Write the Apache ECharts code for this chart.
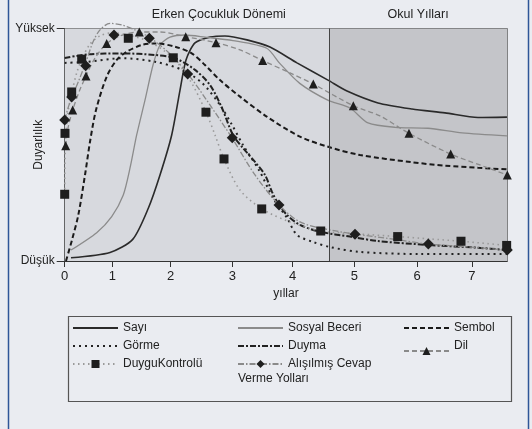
<!DOCTYPE html>
<html><head><meta charset="utf-8">
<script src="https://cdn.jsdelivr.net/npm/echarts@6/dist/echarts.min.js"></script>
<style>html,body{margin:0;padding:0;background:#eaecf1;} #c{width:532px;height:429px;}</style>
</head><body><div id="c"></div>
<script>
// Axis ticks (the reference axis has unevenly spaced year ticks)
const xTickValues = [0, 0.818, 1.822, 2.880, 3.918, 4.977, 6.055, 7.0];
const xTickLabels = ['0', '1', '2', '3', '4', '5', '6', '7'];
const yTickValues = [0, 100];
const yTickLabels = ['Düşük', 'Yüksek'];
const periodNames = ['Erken Çocukluk Dönemi', 'Okul Yılları'];
const periodBounds = [0, 4.542, 7.607];

// Series values (x = years on the drawn axis, y = relative sensitivity 0..100)
const sayiX = [0.108,0.779,1.169,1.437,1.638,1.839,1.982,2.085,2.239,2.497,2.755,3.133,3.528,3.992,4.525,4.852,5.385,5.969,6.536,7.103,7.601];
const sayiY = [1.4,3.7,9.3,22.7,37.0,54.2,73.5,86.5,93.8,96.3,96.8,95.1,92.0,85.2,77.8,73.1,68.0,65.4,63.7,61.7,61.9];
const sosyalX = [0.108,0.550,0.808,1.007,1.122,1.237,1.380,1.518,1.638,1.810,2.068,2.411,2.893,3.472,3.696,4.040,4.521,4.903,5.213,5.677,6.244,6.829,7.601];
const sosyalY = [4.7,12.2,19.1,28.4,39.9,54.2,69.2,84.3,92.9,96.3,97.2,96.3,94.8,91.5,85.0,76.4,69.2,65.8,59.4,57.5,57.1,55.1,53.8];
const sembolX = [0.022,0.125,0.234,0.349,0.435,0.538,0.722,0.894,1.066,1.323,1.552,1.896,2.183,2.411,2.669,3.013,3.472,4.044,4.542,5.075,5.964,6.536,7.103,7.601];
const sembolY = [0,9.0,19.8,37.0,51.3,64.9,79.3,86.5,90.0,92.9,93.6,92.2,89.3,84.3,77.8,70.7,62.1,53.5,49.0,45.6,42.5,41.0,40.1,39.4];
const gormeX = [0,0.400,0.985,1.552,2.016,2.360,2.669,2.876,3.065,3.357,3.580,3.821,3.993,4.268,4.560,5.075,6.106,7.601];
const gormeY = [85.2,85.7,87.2,85.7,82.2,76.6,67.1,58.5,49.9,38.3,27.1,18.5,11.2,8.2,6.0,3.9,3.0,3.0];
const duymaX = [0,0.400,0.985,1.552,1.896,2.239,2.497,2.703,2.892,3.064,3.271,3.443,3.563,3.666,3.821,4.044,4.388,4.903,5.385,6.244,7.103,7.601];
const duymaY = [87.3,88.9,89.3,88.6,87.2,82.2,75.7,65.8,54.2,48.6,42.6,37.0,29.7,24.9,19.8,15.5,12.6,10.5,8.6,6.9,5.7,4.7];
const dilX = [0.017,0.057,0.137,0.246,0.366,0.521,0.722,0.950,1.282,1.638,2.080,2.600,3.013,3.403,3.872,4.273,4.960,5.419,5.917,6.634,7.137,7.607];
const dilY = [49.6,57.2,64.9,72.7,79.6,87.3,93.5,96.8,98.5,98.5,96.5,93.9,90.8,86.2,80.9,76.1,66.8,62.4,54.9,46.0,41.3,37.0];
const dilMarkX = [0.017,0.137,0.366,0.722,1.282,2.080,2.600,3.403,4.273,4.960,5.917,6.634,7.607];
const dilMarkY = [49.6,64.9,79.6,93.5,98.5,96.5,93.9,86.2,76.1,66.8,54.9,46.0,37.0];
const duyguX = [0,0.005,0.022,0.057,0.125,0.211,0.297,0.435,0.607,0.813,1.088,1.466,1.862,2.153,2.428,2.583,2.738,3.013,3.391,3.872,4.405,5.075,5.728,6.278,6.811,7.601];
const duyguY = [28.8,43.4,55.1,64.1,72.7,81.3,86.9,93.3,96.8,98.1,97.2,94.2,87.3,77.8,64.1,54.2,43.9,30.5,22.4,16.8,12.9,11.6,10.5,9.5,8.5,6.7];
const duyguMarkX = [0,0.005,0.120,0.292,1.093,1.866,2.428,2.738,3.386,4.400,5.723,6.811,7.596];
const duyguMarkY = [28.7,54.9,72.7,86.8,95.8,87.4,64.0,43.9,22.4,12.9,10.5,8.5,6.7];
const alisX = [0,0.057,0.125,0.246,0.366,0.486,0.607,0.779,0.985,1.208,1.449,1.775,2.119,2.497,2.876,3.271,3.683,4.044,4.474,4.989,5.762,6.244,6.966,7.601];
const alisY = [60.6,65.8,70.5,77.8,85.6,94.2,99.4,102.2,101.5,99.4,96.3,89.9,80.4,67.1,52.9,37.0,24.1,16.8,13.8,11.6,9.0,7.3,6.0,4.7];
const alisMarkX = [0,0.120,0.361,0.847,1.454,2.114,2.880,3.683,4.989,6.249,7.607];
const alisMarkY = [60.6,70.5,84.0,97.2,95.8,80.4,53.0,24.1,11.5,7.3,4.7];

const zip = (xs, ys) => xs.map((x, i) => [x, ys[i]]);
const chart = echarts.init(document.getElementById('c'), null, {renderer: 'canvas'});
const FONT = 'Liberation Sans, Arial, sans-serif';
const TXT = '#222';
const MARK = '#1e1e1e';

function lineSeries(name, xs, ys, color, width, type, symbol, smooth) {
  return {
    name, type: 'line', data: zip(xs, ys), smooth: smooth, clip: false,
    showSymbol: false, symbol: symbol || 'circle', symbolSize: 8,
    itemStyle: {color: MARK, borderWidth: 0},
    lineStyle: {color, width, type},
    emphasis: {disabled: true}, z: 3
  };
}
function markerSeries(name, xs, ys, symbol, size) {
  return {
    name, type: 'scatter', data: zip(xs, ys), symbol, symbolSize: size, clip: false,
    itemStyle: {color: MARK, opacity: 1}, emphasis: {disabled: true}, z: 4
  };
}

const labelOf = (vals, labs) => v => {
  let best = 0;
  vals.forEach((t, i) => { if (Math.abs(t - v) < Math.abs(vals[best] - v)) best = i; });
  return labs[best];
};

const ALIS = 'Alışılmış Cevap Verme Yolları';
const series = [
  lineSeries('Sayı', sayiX, sayiY, '#2a2a2a', 1.6, 'solid', null, 0.25),
  lineSeries('Sosyal Beceri', sosyalX, sosyalY, '#8b8b8b', 1.3, 'solid', null, 0.25),
  lineSeries('Sembol', sembolX, sembolY, '#1a1a1a', 2, [5, 3], null, 0.3),
  lineSeries('Görme', gormeX, gormeY, '#222', 2, [2, 4], null, 0.3),
  lineSeries('Duyma', duymaX, duymaY, '#222', 2, [6, 2, 2, 2], null, 0.3),
  lineSeries('Dil', dilX, dilY, '#8a8a8a', 1.3, [5, 3], 'triangle', 0.3),
  lineSeries('DuyguKontrolü', duyguX, duyguY, '#9a9a9a', 1.6, [1.5, 3.5], 'rect', 0.3),
  lineSeries(ALIS, alisX, alisY, '#8a8a8a', 1.3, [6, 2, 1.5, 2], 'diamond', 0.3),
  markerSeries('Dil', dilMarkX, dilMarkY, 'triangle', 9),
  markerSeries('DuyguKontrolü', duyguMarkX, duyguMarkY, 'rect', 9),
  markerSeries(ALIS, alisMarkX, alisMarkY, 'diamond', 11)
];

series[0].markArea = {
  silent: true,
  label: {show: true, position: 'top', distance: 7, color: TXT, fontSize: 12.5, fontFamily: FONT},
  data: [
    [{name: periodNames[0], xAxis: periodBounds[0], itemStyle: {color: '#d7d9de'}, label: {offset: [22, 0]}}, {xAxis: periodBounds[1]}],
    [{name: periodNames[1], xAxis: periodBounds[1], itemStyle: {color: '#c4c5c9'}}, {xAxis: periodBounds[2]}]
  ]
};
series[0].markLine = {
  silent: true, symbol: 'none', label: {show: false},
  lineStyle: {color: '#444', width: 1, type: 'solid'},
  data: [{xAxis: periodBounds[1]}]
};

const legendRows = [330, 348, 366];
const legendCols = [72, 237, 403];
const legendPlace = [
  ['Sayı', 0, 0, false], ['Sosyal Beceri', 1, 0, false], ['Sembol', 2, 0, false],
  ['Görme', 0, 1, false], ['Duyma', 1, 1, false], ['Dil', 2, 1, true],
  ['DuyguKontrolü', 0, 2, true], [ALIS, 1, 2, true]
];
const legends = legendPlace.map(([name, c, r, hasMark]) => ({
  data: [name], left: legendCols[c], top: legendRows[r] - 8,
  itemWidth: 45, itemHeight: 10, itemGap: 6, padding: 0,
  selectedMode: false,
  itemStyle: hasMark ? {color: MARK} : {opacity: 0},
  formatter: n => n === ALIS ? 'Alışılmış Cevap' : (n === 'Dil' ? '{up|Dil}' : n),
  textStyle: {color: TXT, fontSize: 12, fontFamily: FONT,
    rich: {up: {color: TXT, fontSize: 12, fontFamily: FONT, padding: [0, 0, 10, 0]}}}
}));

chart.setOption({
  animation: false,
  backgroundColor: '#eaecf1',
  textStyle: {fontFamily: FONT},
  grid: {left: 64.7, right: 24.7, top: 28.5, bottom: 168, containLabel: false, outerBoundsMode: 'none',
    show: true, borderColor: '#444', borderWidth: 1, backgroundColor: 'transparent'},
  xAxis: {
    type: 'value', min: 0, max: periodBounds[2],
    name: 'yıllar', nameLocation: 'middle', nameGap: 27, nameMoveOverlap: false,
    nameTextStyle: {color: TXT, fontSize: 12, fontFamily: FONT},
    axisLine: {show: true, lineStyle: {color: '#333', width: 1}},
    axisTick: {show: true, customValues: xTickValues, length: 6, lineStyle: {color: '#333'}},
    axisLabel: {show: true, customValues: xTickValues, formatter: labelOf(xTickValues, xTickLabels), color: TXT, fontSize: 13, margin: 9, fontFamily: FONT},
    splitLine: {show: false}
  },
  yAxis: {
    type: 'value', min: 0, max: 100,
    name: 'Duyarlılık', nameLocation: 'middle', nameGap: 20, nameRotate: 90, nameMoveOverlap: false,
    nameTextStyle: {color: TXT, fontSize: 12, fontFamily: FONT},
    axisLine: {show: true, lineStyle: {color: '#333', width: 1}},
    axisTick: {show: true, customValues: yTickValues, length: 8, lineStyle: {color: '#333'}},
    axisLabel: {show: true, customValues: yTickValues, formatter: labelOf(yTickValues, yTickLabels), color: TXT, fontSize: 12, margin: 10, fontFamily: FONT},
    splitLine: {show: false}
  },
  legend: legends,
  series: series,
  graphic: [
    {type: 'rect', left: 66, top: 314, shape: {width: 443, height: 85}, style: {fill: 'none', stroke: '#555', lineWidth: 1.2}, silent: true},
    {type: 'text', left: 238, top: 373, style: {text: 'Verme Yolları', fill: TXT, font: '12px ' + FONT}, silent: true},
    {type: 'line', shape: {x1: 8.5, y1: 0, x2: 8.5, y2: 429}, style: {stroke: '#2f5597', lineWidth: 1.5}, silent: true},
    {type: 'line', shape: {x1: 528.5, y1: 0, x2: 528.5, y2: 429}, style: {stroke: '#2f5597', lineWidth: 1.5}, silent: true}
  ]
});
</script></body></html>
